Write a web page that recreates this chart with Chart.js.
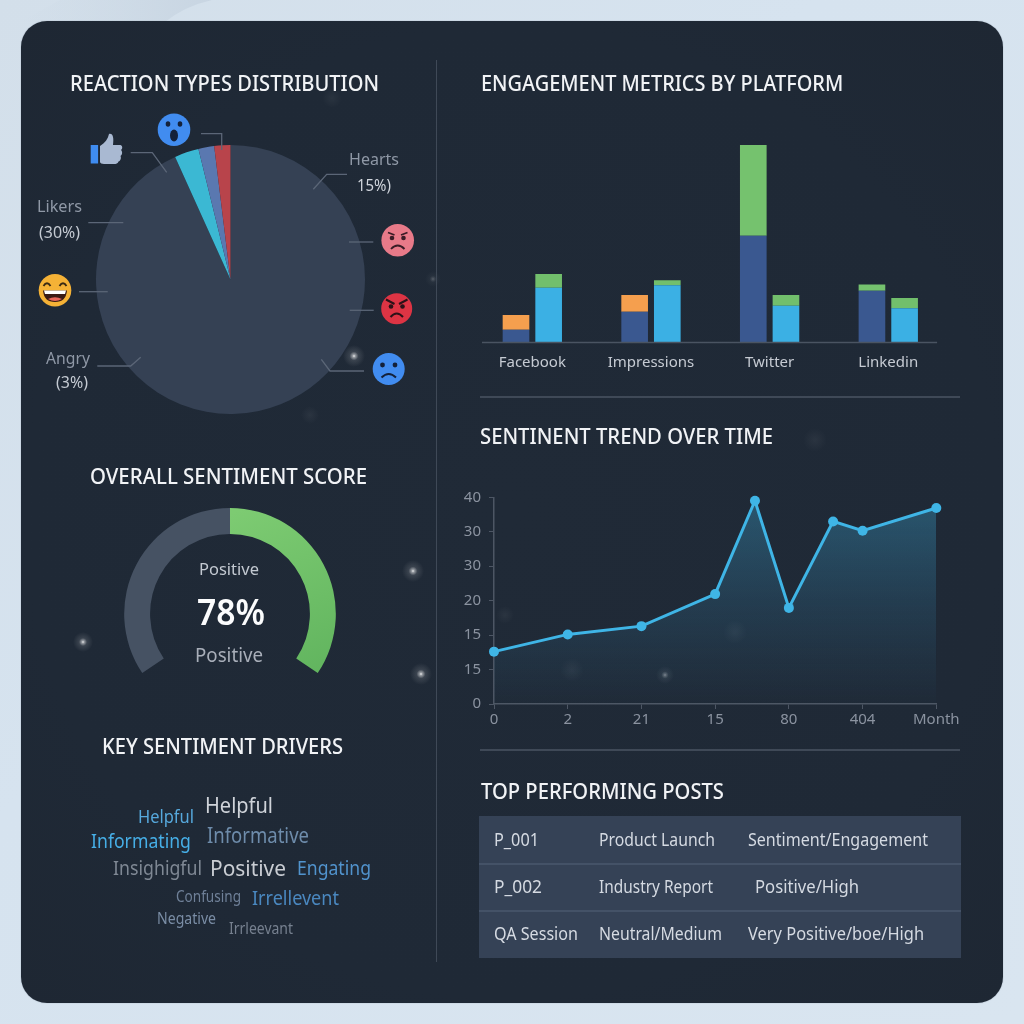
<!DOCTYPE html>
<html>
<head>
<meta charset="utf-8">
<script src="https://cdn.jsdelivr.net/npm/chart.js@4"></script>
<style>
html,body{margin:0;padding:0;width:1024px;height:1024px;overflow:hidden;background:#d6e3ef;font-family:"Noto Sans",sans-serif}
#bg{position:absolute;left:0;top:0;width:1024px;height:1024px;background:linear-gradient(135deg,#d3dfea 0%,#d6e3ef 40%,#d9e5f0 100%)}
#panel{position:absolute;left:21px;top:21px;width:982px;height:982px;border-radius:26px;background:radial-gradient(ellipse at 50% 50%,#202a37 0%,#1f2936 70%,#1e2733 100%);box-shadow:0 0 1px rgba(60,75,95,.6)}
canvas{position:absolute}
svg{position:absolute;left:0;top:0}
.t{position:absolute;white-space:nowrap;line-height:1;transform-origin:left center;transform:translateY(calc(-50% - 1px))}
.h{font-size:22px;font-weight:500;color:#f1f3f6}
.c{font-size:18px;color:#d5dae2}
#tbl{position:absolute;left:479px;top:816px;width:482px;height:142px;background:#354256}
.sep{position:absolute;left:479px;width:482px;height:2px;background:#445267}
.rule{position:absolute;background:#3f4957}
</style>
</head>
<body>
<div id="bg"></div>
<svg width="1024" height="1024">
<defs><linearGradient id="sw" x1="0" x2="1" y1="0" y2="0"><stop offset="0" stop-color="#cbd8e4" stop-opacity="0"/><stop offset="1" stop-color="#c8d5e2"/></linearGradient></defs>
<path d="M165 22 Q185 6 212 0 L60 0 L20 22Z" fill="url(#sw)"/></svg>
<div id="panel"></div>
<svg id="spark" width="1024" height="1024">
<defs><radialGradient id="g"><stop offset="0" stop-color="#fff" stop-opacity=".95"/><stop offset=".12" stop-color="#fff" stop-opacity=".55"/><stop offset=".4" stop-color="#fff" stop-opacity=".12"/><stop offset="1" stop-color="#fff" stop-opacity="0"/></radialGradient>
<radialGradient id="f"><stop offset="0" stop-color="#fff" stop-opacity=".05"/><stop offset="1" stop-color="#fff" stop-opacity="0"/></radialGradient></defs>
<circle cx="354" cy="356" r="11" fill="url(#g)"/><circle cx="413" cy="571" r="11" fill="url(#g)"/><circle cx="83" cy="642" r="10" fill="url(#g)"/><circle cx="421" cy="674" r="11" fill="url(#g)"/><circle cx="665" cy="675" r="9" fill="url(#g)" opacity=".5"/>
<circle cx="332" cy="98" r="10" fill="url(#f)"/><circle cx="433" cy="279" r="8" fill="url(#g)" opacity=".3"/><circle cx="815" cy="440" r="12" fill="url(#f)"/><circle cx="310" cy="415" r="9" fill="url(#f)"/><circle cx="505" cy="615" r="9" fill="url(#f)"/><circle cx="572" cy="670" r="12" fill="url(#f)"/><circle cx="735" cy="632" r="12" fill="url(#f)"/>
</svg>

<div class="rule" style="left:436px;top:60px;width:1px;height:902px"></div>
<div class="rule" style="left:480px;top:396px;width:480px;height:2px"></div>
<div class="rule" style="left:480px;top:749px;width:480px;height:2px"></div>

<canvas id="pie" style="left:96px;top:145px" width="269" height="269"></canvas>
<canvas id="gauge" style="left:124px;top:508px" width="212" height="165"></canvas>
<canvas id="bars" style="left:460px;top:120px" width="510" height="265"></canvas>
<canvas id="trend" style="left:450px;top:480px" width="520" height="262"></canvas>

<svg width="1024" height="1024" fill="none" stroke="#5b6677" stroke-width="1.3">
<path d="M201 133.7H221.7V150"/><path d="M130.7 152.7H152.3L166.7 172.3"/><path d="M313.3 189.3L326.7 174.3H347"/><path d="M349 242H373.3"/><path d="M349.7 310.3H373.7"/><path d="M321.3 359.3L330 371H364"/><path d="M88.3 222.7H123.3"/><path d="M79 291.7H107.7"/><path d="M97.3 366H130.7L140.7 357.3"/>
</svg>
<!-- reaction icons -->
<svg width="1024" height="1024">
<!-- wow -->
<circle cx="174" cy="129.7" r="16.3" fill="#418cf0"/><ellipse cx="168" cy="124" rx="2.3" ry="2.8" fill="#14213a"/><ellipse cx="180" cy="124" rx="2.3" ry="2.8" fill="#14213a"/><ellipse cx="174" cy="135.5" rx="4" ry="6" fill="#14213a"/>
<!-- thumb -->
<rect x="90.7" y="145" width="7.4" height="18.5" fill="#3f8cf0"/>
<path d="M100 146 C105 143 108 139 109 134 C113 133 114 138 113 145 H120.5 C123 146 122.5 149 121 150 C123 152 122 155 120.5 156 C121.5 158 120.5 161 118.5 161.5 C118 163.5 116 164 114 164 H104 C102 164 100 163 100 162Z" fill="#a9b9d2"/>
<!-- pink angry -->
<circle cx="397.7" cy="240.3" r="16.3" fill="#e87a89"/><circle cx="392" cy="238" r="2.3" fill="#3a1c26"/><circle cx="403.5" cy="238" r="2.3" fill="#3a1c26"/>
<path d="M388 232.5L394.5 235M407.5 232.5L401 235M391 249Q397.7 242 404.5 249" fill="none" stroke="#3a1c26" stroke-width="1.8"/>
<!-- red angry -->
<circle cx="396.7" cy="308.7" r="15.5" fill="#dd3444"/><circle cx="391" cy="306.5" r="2.3" fill="#2b1218"/><circle cx="402.5" cy="306.5" r="2.3" fill="#2b1218"/>
<path d="M386 299.5L394.5 304M407.5 299.5L399 304M390.5 317Q396.7 310 403 317" fill="none" stroke="#2b1218" stroke-width="2"/>
<!-- sad -->
<circle cx="388.7" cy="369" r="16" fill="#418cf0"/><circle cx="382.5" cy="365" r="2.4" fill="#14213a"/><circle cx="395" cy="365" r="2.4" fill="#14213a"/>
<path d="M381.5 377.5Q388.7 370.5 396 377.5" fill="none" stroke="#14213a" stroke-width="2"/>
<!-- grin -->
<circle cx="55" cy="290.3" r="16.3" fill="#f5b236"/>
<path d="M43.5 286Q47 280.5 50.5 286M59.5 286Q63 280.5 66.5 286" fill="none" stroke="#3a2a14" stroke-width="1.9"/>
<path d="M43 290.5H67Q66 302 55 302Q44 302 43 290.5Z" fill="#3a1a14"/><path d="M44 290.5H66L65 294H45Z" fill="#fff"/><path d="M48 299Q55 295.5 62 299Q55 303 48 299Z" fill="#e8665a"/>
</svg>

<!-- headings -->
<div class="t h" style="left:70px;top:83px" data-w="309">REACTION TYPES DISTRIBUTION</div>
<div class="t h" style="left:481px;top:83px" data-w="362">ENGAGEMENT METRICS BY PLATFORM</div>
<div class="t h" style="left:480px;top:436px" data-w="293">SENTINENT TREND OVER TIME</div>
<div class="t h" style="left:90px;top:476px" data-w="277">OVERALL SENTIMENT SCORE</div>
<div class="t h" style="left:102px;top:746px" data-w="241">KEY SENTIMENT DRIVERS</div>
<div class="t h" style="left:481px;top:791px" data-w="243">TOP PERFORMING POSTS</div>

<!-- pie labels -->
<div class="t" style="left:349px;top:159px;font-size:17px;color:#8f98a6" data-w="50">Hearts</div>
<div class="t" style="left:357px;top:185px;font-size:17px;color:#d0d5dc" data-w="34">15%)</div>
<div class="t" style="left:37px;top:206px;font-size:17px;color:#8f98a6" data-w="45">Likers</div>
<div class="t" style="left:39px;top:232px;font-size:17px;color:#c4cad2" data-w="41">(30%)</div>
<div class="t" style="left:46px;top:358px;font-size:17px;color:#8f98a6" data-w="44">Angry</div>
<div class="t" style="left:56px;top:382px;font-size:17px;color:#c4cad2" data-w="32">(3%)</div>

<!-- gauge labels -->
<div class="t" style="left:199px;top:569px;font-size:17px;color:#c3c9d1" data-w="60">Positive</div>
<div class="t" style="left:197px;top:613px;font-size:36px;font-weight:600;color:#fbfcfd" data-w="68">78%</div>
<div class="t" style="left:195px;top:656px;font-size:20px;color:#a8aeb9" data-w="68">Positive</div>

<!-- word cloud -->
<div class="t" style="left:205px;top:805px;font-size:22px;color:#cfd3d9" data-w="68">Helpful</div>
<div class="t" style="left:138px;top:817px;font-size:18px;color:#56a8dc" data-w="56">Helpful</div>
<div class="t" style="left:91px;top:842px;font-size:20px;color:#46aee6" data-w="100">Informating</div>
<div class="t" style="left:207px;top:836px;font-size:21px;color:#6e8cab" data-w="102">Informative</div>
<div class="t" style="left:113px;top:869px;font-size:19px;color:#7f8894" data-w="89">Insighigful</div>
<div class="t" style="left:210px;top:868px;font-size:22px;color:#c9cdd3" data-w="76">Positive</div>
<div class="t" style="left:297px;top:869px;font-size:20px;color:#5193cd" data-w="74">Engating</div>
<div class="t" style="left:176px;top:897px;font-size:16px;color:#6f8098" data-w="65">Confusing</div>
<div class="t" style="left:252px;top:899px;font-size:20px;color:#4a88c0" data-w="87">Irrellevent</div>
<div class="t" style="left:157px;top:919px;font-size:16px;color:#7a8da5" data-w="59">Negative</div>
<div class="t" style="left:229px;top:929px;font-size:16px;color:#76808f" data-w="64">Irrleevant</div>

<!-- table -->
<div id="tbl"></div>
<div class="sep" style="top:863px"></div>
<div class="sep" style="top:910px"></div>
<div class="t c" style="left:494px;top:840px" data-w="45">P_001</div>
<div class="t c" style="left:599px;top:840px" data-w="116">Product Launch</div>
<div class="t c" style="left:748px;top:840px" data-w="180">Sentiment/Engagement</div>
<div class="t c" style="left:494px;top:887px" data-w="48">P_002</div>
<div class="t c" style="left:599px;top:887px" data-w="114">Industry Report</div>
<div class="t c" style="left:755px;top:887px" data-w="104">Positive/High</div>
<div class="t c" style="left:494px;top:934px" data-w="84">QA Session</div>
<div class="t c" style="left:599px;top:934px" data-w="123">Neutral/Medium</div>
<div class="t c" style="left:748px;top:934px" data-w="176">Very Positive/boe/High</div>

<script>
// Reaction pie
const reactionLabels = ["Other reactions", "Teal", "Blue", "Red"];
const reactionValues = [93.25, 2.92, 1.89, 1.94];
const reactionColors = ["#354154", "#3bb8d3", "#5a78b0", "#b8444b"];
// Gauge
const gaugeLabels = ["Remainder", "Positive"];
const gaugeValues = [50, 50];
// Engagement bars
const platforms = ["Facebook", "Impressions", "Twitter", "Linkedin"];
const leftBase = [12.7, 30.7, 106.7, 51.7];
const leftOrange = [14.7, 16.7, 0, 0];
const leftGreen = [0, 0, 90.7, 6.3];
const rightBase = [54.7, 57.3, 36.7, 34.3];
const rightGreen = [13.7, 5, 10.7, 10.3];
// Sentiment trend
const trendX = [0, 1, 2, 3, 3.54, 4, 4.6, 5, 6];
const trendY = [1.52, 2.02, 2.26, 3.19, 5.9, 2.79, 5.3, 5.03, 5.69];
const trendXTicks = ["0", "2", "21", "15", "80", "404", "Month"];
const trendYTicks = ["0", "15", "15", "20", "30", "30", "40"];

Chart.defaults.animation = false;
Chart.defaults.responsive = false;
Chart.defaults.devicePixelRatio = 1;
Chart.defaults.font.family = '"Noto Sans", sans-serif';
Chart.defaults.plugins.legend.display = false;
Chart.defaults.plugins.tooltip.enabled = false;

new Chart(document.getElementById("pie"), {
  type: "pie",
  data: { labels: reactionLabels, datasets: [{ data: reactionValues, backgroundColor: reactionColors, borderWidth: 0 }] },
  options: { layout: { padding: 0 } }
});

new Chart(document.getElementById("gauge"), {
  type: "doughnut",
  data: { labels: gaugeLabels, datasets: [{
    data: gaugeValues,
    borderWidth: 0,
    backgroundColor: (ctx) => {
      if (ctx.dataIndex === 0) return "#465263";
      const g = ctx.chart.ctx.createLinearGradient(120, 0, 190, 165);
      g.addColorStop(0, "#7dcb72");
      g.addColorStop(1, "#62b55f");
      return g;
    }
  }] },
  options: { rotation: -124, circumference: 248, cutout: "75.5%", layout: { padding: 0 } }
});

const baseline = {
  id: "baseline",
  afterDatasetsDraw(chart) {
    const c = chart.ctx, y = chart.scales.y.getPixelForValue(0);
    c.save();
    c.strokeStyle = "#4a5462";
    c.lineWidth = 1.5;
    c.beginPath();
    c.moveTo(chart.chartArea.left + 9, y);
    c.lineTo(chart.chartArea.right - 10.5, y);
    c.stroke();
    c.restore();
  }
};
new Chart(document.getElementById("bars"), {
  type: "bar",
  plugins: [baseline],
  data: {
    labels: platforms,
    datasets: [
      { data: leftBase, stack: "left", backgroundColor: "#3a5890" },
      { data: leftOrange, stack: "left", backgroundColor: "#f59f4e" },
      { data: leftGreen, stack: "left", backgroundColor: "#75c26e" },
      { data: rightBase, stack: "right", backgroundColor: "#3bb0e4" },
      { data: rightGreen, stack: "right", backgroundColor: "#72bf6c" }
    ]
  },
  options: {
    layout: { padding: { left: 13, right: 22.4, top: 22.5, bottom: 0 } },
    datasets: { bar: { categoryPercentage: 0.5505, barPercentage: 0.816, borderWidth: 0 } },
    scales: {
      x: {
        stacked: true,
        grid: { display: false, drawTicks: false },
        border: { display: false },
        ticks: { color: "#c6cbd3", font: { size: 15 }, padding: 11, maxRotation: 0 },
        afterFit: (s) => { s.height = 42.5; }
      },
      y: { stacked: true, display: false, min: 0, max: 200 }
    }
  }
});

new Chart(document.getElementById("trend"), {
  type: "line",
  data: {
    datasets: [{
      data: trendX.map((x, i) => ({ x, y: trendY[i] })),
      borderColor: "#3fb5e6",
      borderWidth: 3,
      tension: 0,
      pointRadius: 5,
      pointBackgroundColor: "#3fb5e6",
      pointBorderWidth: 0,
      clip: false,
      fill: "origin",
      backgroundColor: (ctx) => {
        const a = ctx.chart.chartArea;
        if (!a) return "transparent";
        const g = ctx.chart.ctx.createLinearGradient(0, a.top, 0, a.bottom);
        g.addColorStop(0, "rgba(60,170,215,0.36)");
        g.addColorStop(0.5, "rgba(60,160,210,0.17)");
        g.addColorStop(1, "rgba(60,150,200,0.01)");
        return g;
      }
    }]
  },
  options: {
    layout: { padding: { left: 0, right: 33.7, top: 17.3, bottom: 0 } },
    scales: {
      x: {
        type: "linear", min: 0, max: 6,
        grid: { drawOnChartArea: false, color: "#4d5664", tickLength: 5 },
        border: { color: "#4d5664", width: 1.5 },
        ticks: { stepSize: 1, autoSkip: false, maxRotation: 0, color: "#8b93a0", font: { size: 15 }, padding: 2, callback: (v) => trendXTicks[v] },
        afterFit: (s) => { s.height = 38; }
      },
      y: {
        min: 0, max: 6,
        grid: { drawOnChartArea: false, color: "#4d5664", tickLength: 5 },
        border: { color: "#4d5664", width: 1.5 },
        ticks: { stepSize: 1, color: "#8b93a0", font: { size: 15 }, padding: 8, callback: (v) => trendYTicks[v] },
        afterFit: (s) => { s.width = 44; }
      }
    }
  }
});

// Fit each label to the width it has in the reference
document.querySelectorAll(".t[data-w]").forEach((el) => {
  const s = parseFloat(el.dataset.w) / el.getBoundingClientRect().width;
  el.style.transform = "translateY(calc(-50% - 1px)) scaleX(" + s.toFixed(3) + ")";
});
</script>
</body>
</html>
